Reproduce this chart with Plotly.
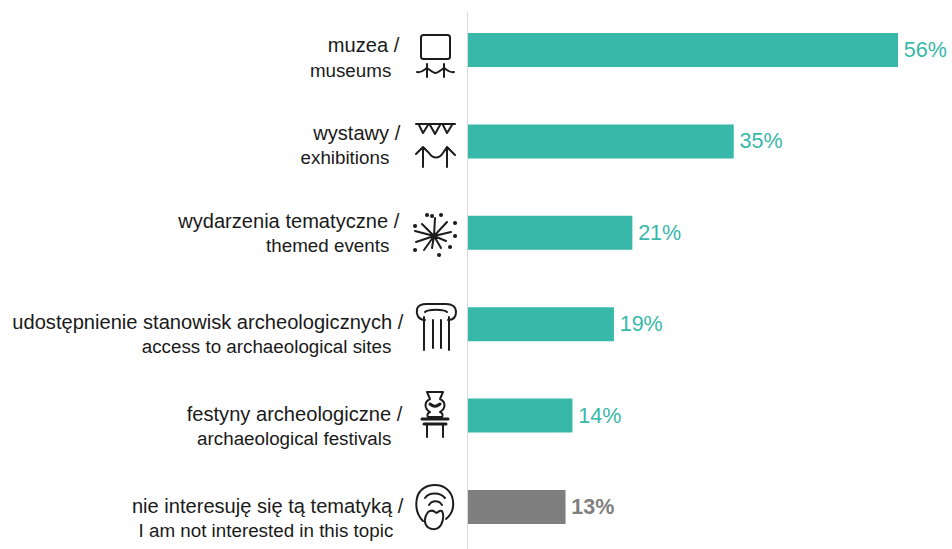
import base64
import plotly.graph_objects as go

labels_pl = ["muzea /", "wystawy /", "wydarzenia tematyczne /", "udostępnienie stanowisk archeologicznych /",
             "festyny archeologiczne /", "nie interesuję się tą tematyką /"]
labels_en = ["museums", "exhibitions", "themed events", "access to archaeological sites",
             "archaeological festivals", "I am not interested in this topic"]
values = [56.0, 34.6, 21.4, 19.0, 13.6, 12.7]
value_labels = ["56%", "35%", "21%", "19%", "14%", "<b>13%</b>"]
bar_colors = ["#37B8A9"] * 5 + ["#7F7F7F"]
text_colors = ["#37B8A9"] * 5 + ["#7F7F7F"]
pad_pl = [4, 3, 4, 0, 1, 0]
pad_en = [12, 14, 14, 12, 12, 10]
label_shift = [8, 4, 1, 10, 11, 12]

W, H, L, T = 952, 549, 468, 12
PW, PH = W - L, H - T
ROW = 91.4


def pad(px):
    if px == 0:
        return ""
    n = max(1, round(px / 5))
    return f'<span style="font-size:{px / (n * 0.278):.1f}px">' + "\u00a0" * n + "</span>"


S = 'fill="none" stroke="#1c1c1c" stroke-width="2" stroke-linecap="round" stroke-linejoin="round"'
icons = {
    56: f'<g {S}><rect x="11" y="4" width="29" height="24" rx="2.5"/>'
        '<path d="M7 41 C12 42 15 38 17 37 C20 39 23 42 25.5 42 C28 42 31 39 34 37 C36 38 39 42 44 41"/>'
        '<path d="M17 33V46M34 33V46"/></g>',
    147: f'<g {S}><path d="M6 2H45M9 3 L13 11 L18 3M20 3 L25 12 L30 3M33 3 L37 11 L42 3"/>'
         '<path d="M6 32 L13 25 L19 31 C23 37 29 37 33 31 L37 25 L45 33M13 25V45M37 25V45"/></g>',
    237: f'<g {S}><path d="M24 24 L25 6M24 24 L37 10M24 24 L12 12M24 24 L5 19M24 24 L41 20M24 24 L6 30M24 24 L36 29M24 24 L14 38M24 24 L22 36M24 24 L31 36"/>'
         '<path d="M17 3h.1M31 3h.1M5 14h.1M45 11h.1M5 38h.1M40 35h.1M29 43h.1M22 4h.1M45 24h.1" stroke-width="4"/></g>',
    327: f'<g {S}><path d="M15 18 C8 18 6 12 7 7 C8 3 13 2 17 2 H36 C42 2 46 5 46 10 C46 15 43 18 38 18 M15 10 C18 7 34 7 37 10"/>'
         '<path d="M14 15V48M39 15V48M23 18V46M31 18V46"/></g>',
    416: f'<g {S}><path d="M17 1H33 L30 8 C36 11 36 17 30 21 C33 22 33 25 32 26 H18 C17 25 17 22 20 21 C14 17 14 11 20 8 Z"/>'
         '<path d="M20 13 C24 16 26 16 30 13" stroke-width="3"/>'
         '<path d="M12 28H38M14 33H36" stroke-width="3"/><path d="M17 33V46M33 33V46"/></g>',
    508: f'<g {S}><path d="M13 38 C7 32 5 25 7 15 C9 6 17 2 25 2 C34 2 42 8 43 18 C44 26 41 32 36 36"/>'
         '<path d="M15 15 C19 9 30 9 35 15M19 22 C22 17 29 17 32 22"/>'
         '<path d="M18 29 C15 33 14 38 16 42 C19 47 27 48 31 42 C33 38 34 32 32 28 C29 26 27 32 25 29 C23 27 21 27 18 29 Z"/></g>',
}


def uri(body):
    svg = f'<svg xmlns="http://www.w3.org/2000/svg" width="50" height="50" viewBox="0 0 50 50">{body}</svg>'
    return "data:image/svg+xml;base64," + base64.b64encode(svg.encode()).decode()


images = [dict(source=uri(b), xref="paper", yref="paper", xanchor="left", yanchor="top",
               x=(410 - L) / PW, y=1 - (cy - 25 - T) / PH, sizex=50 / PW, sizey=50 / PH,
               sizing="stretch", layer="above")
          for cy, b in icons.items()]

tick_text = [f'<span style="font-size:20.1px">{a}</span>{pad(p)}<br><span style="font-size:18.8px">{b}</span>{pad(q)}'
             for a, b, p, q in zip(labels_pl, labels_en, pad_pl, pad_en)]
bar_text = ['<span style="font-size:10px">\u00a0</span>' + t for t in value_labels]

fig = go.Figure(go.Bar(
    x=values, y=list(range(6)), orientation="h", width=34 / ROW,
    marker=dict(color=bar_colors, line_width=0),
    text=bar_text, textposition="outside", cliponaxis=False,
    textfont=dict(size=21.5, color=text_colors, family="Liberation Sans"),
    hoverinfo="skip",
))
fig.update_layout(
    width=W, height=H, autosize=False, margin=dict(l=L, r=0, t=T, b=0, pad=0),
    paper_bgcolor="white", plot_bgcolor="white", showlegend=False, images=images,
    font=dict(family="Liberation Sans", color="#1a1a1a"),
    xaxis=dict(range=[0, PW / 7.68], visible=False, showgrid=False, zeroline=False),
    yaxis=dict(range=[5.46, -0.416], tickmode="array",
               tickvals=[i + s / ROW for i, s in enumerate(label_shift)],
               ticktext=tick_text,
               tickfont=dict(size=18.5, color="#1a1a1a"), ticks="", ticklabelstandoff=60,
               showline=True, linecolor="#D9D9D9", linewidth=1, showgrid=False, zeroline=False),
)
fig.write_html("out.html", config={"displayModeBar": False},
               post_script="document.body.style.margin='0';document.documentElement.style.overflow='hidden';")
